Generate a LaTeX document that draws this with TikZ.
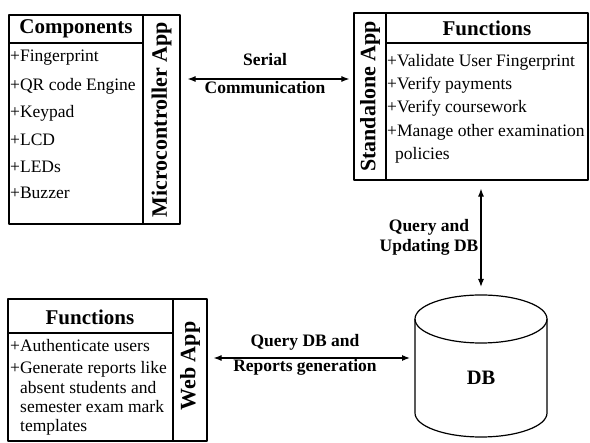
\documentclass[tikz,border=0pt]{standalone}
\usepackage{fontspec}
\setmainfont{Liberation Serif}
\usetikzlibrary{arrows.meta}

\begin{document}
\begin{tikzpicture}[x=1pt,y=-1pt,line join=round,
    box/.style={draw,line width=1.2pt,minimum width=#1},
    rule/.style={line width=1.2pt},
    conn/.style={line width=1.1pt,{Latex[length=8pt,width=6pt]}-{Latex[length=8pt,width=6pt]}},
    ttl/.style={font=\bfseries\fontsize{21}{25}\selectfont},
    itm/.style={anchor=west,inner sep=0pt,font=\fontsize{17.5}{20}\selectfont},
    side/.style={rotate=90,inner sep=0pt,font=\bfseries\fontsize{22}{26}\selectfont},
    lab/.style={align=center,inner sep=0pt,font=\bfseries\fontsize{17.5}{#1}\selectfont}]
  \useasboundingbox (0,0) rectangle (590,443);

  % 单片机应用
  \node[box=171pt,minimum height=209pt] (mcu) at (94.5,119.5) {};
  \draw[rule] (143,15) -- (143,224);
  \draw[rule] (9,43) -- (143,43);
  \node[ttl] (comp) at (76,29) {Components};
  \node[side] (mcuname) at (161.5,119.5) {Microcontroller App};
  \node[itm] (m1) at (10,58) {+Fingerprint};
  \node[itm] (m2) at (10,86) {+QR code Engine};
  \node[itm] (m3) at (10,113) {+Keypad};
  \node[itm] (m4) at (10,140) {+LCD};
  \node[itm] (m5) at (10,167) {+LEDs};
  \node[itm] (m6) at (10,193) {+Buzzer};

  % 独立应用
  \node[box=234pt,minimum height=167pt] (sa) at (471,96.5) {};
  \draw[rule] (386,13) -- (386,180);
  \draw[rule] (386,43) -- (588,43);
  \node[ttl] (safun) at (487,28) {Functions};
  \node[side] (saname) at (370,96.5) {Standalone App};
  \node[itm] (s1) at (387,62) {+Validate User Fingerprint};
  \node[itm] (s2) at (387,85) {+Verify payments};
  \node[itm] (s3) at (387,108) {+Verify coursework};
  \node[itm] (s4) at (387,132) {+Manage other examination};
  \node[itm] (s5) at (395,155) {policies};

  % 网页应用
  \node[box=199pt,minimum height=142pt] (web) at (107.5,370) {};
  \draw[rule] (173,299) -- (173,441);
  \draw[rule] (8,333) -- (173,333);
  \node[ttl] (webfun) at (90,317) {Functions};
  \node[side] (webname) at (190,366) {Web App};
  \node[itm] (w1) at (10,346) {+Authenticate users};
  \node[itm] (w2) at (10,369) {+Generate reports like};
  \node[itm] (w3) at (20,388) {absent students and};
  \node[itm] (w4) at (20,407) {semester exam mark};
  \node[itm] (w5) at (20,427) {templates};

  % 数据库圆柱
  \coordinate (dbc) at (481,319);
  \coordinate (dbn) at (481,295);
  \coordinate (dbw) at (415,358);
  \draw[rule] (dbc) ellipse [x radius=66pt,y radius=24pt];
  \draw[rule] (415,319) -- (415,413) arc[start angle=180,end angle=360,x radius=66pt,y radius=24pt] -- (547,319);
  \node[font=\bfseries\fontsize{20.5}{24}\selectfont] (db) at (481,378) {DB};

  % 连线
  \draw[conn,shorten <=7pt,shorten >=4pt] (mcu.east |- 0,79) -- (sa.west |- 0,79);
  \node[lab=28pt] (serial) at (265,74) {Serial\\Communication};
  \draw[conn,shorten <=8pt,shorten >=8pt] (sa.south -| dbn) -- (dbn);
  \node[lab=20pt] (upd) at (429,237) {Query and\\Updating DB};
  \draw[conn,shorten <=6pt,shorten >=5pt] (web.east |- dbw) -- (dbw);
  \node[lab=25pt] (rep) at (305,354.5) {Query DB and\\Reports generation};
\end{tikzpicture}
\end{document}
